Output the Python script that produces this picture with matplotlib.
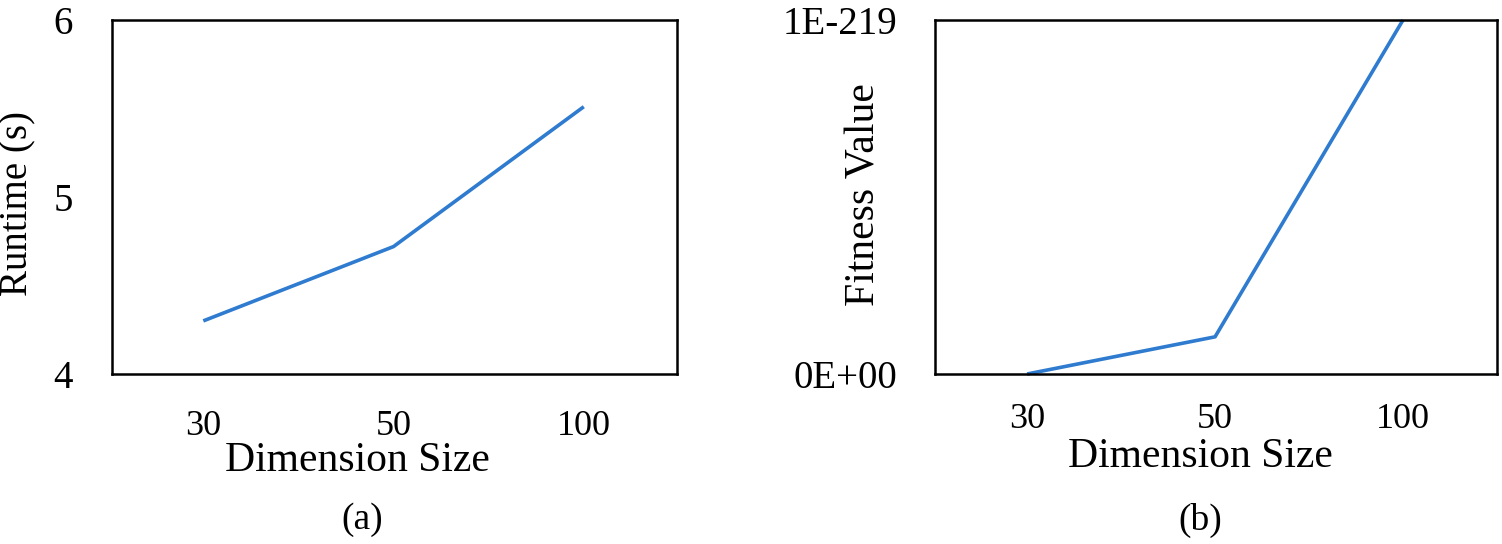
import matplotlib
matplotlib.use("Agg")
import matplotlib.pyplot as plt
import numpy as np

plt.rcParams['font.family'] = ['Liberation Serif', 'DejaVu Serif']

# ---- data ----
dimensions = ["30", "50", "100"]
runtime_s = [4.30, 4.72, 5.51]
fitness = [0.0, 1.05e-220, 1.0e-219]
fitness_unit = 1e-219
runtime_ticks = [4, 5, 6]
fitness_tick_labels = ["0E+00", "1E-219"]

line_color = "#2E7BCF"

fig = plt.figure(figsize=(15.02, 5.44), dpi=100)
H = 544.0
W = 1502.0

def add_axes(x0, x1, top, bottom):
    return fig.add_axes([x0 / W, 1 - bottom / H, (x1 - x0) / W, (bottom - top) / H])

ax1 = add_axes(112, 677, 20, 374)
ax2 = add_axes(935, 1497, 20, 374)

xpos = np.arange(len(dimensions))

# ---- panel (a) ----
ax1.plot(xpos, runtime_s, color=line_color, lw=2.6, solid_capstyle='butt', clip_on=False)
ax1.set_xlim(-0.48, 2.49)
ax1.set_ylim(4, 6)
ax1.set_yticks(runtime_ticks)
ax1.set_yticklabels([str(t) for t in runtime_ticks])
ax1.set_xticks(xpos)
ax1.set_xticklabels(dimensions)
ax1.tick_params(axis='y', length=0, pad=28, labelsize=28)
ax1.tick_params(axis='x', length=0, pad=26, labelsize=26)
ax1.set_ylabel("Runtime (s)", fontsize=28, va='center', ha='center')
ax1.yaxis.set_label_coords(-0.166, 0.483)
ax1.set_xlabel("Dimension Size", fontsize=30, va='baseline', ha='center')
ax1.xaxis.set_label_coords(0.434, -0.274)

# ---- panel (b) ----
ax2.plot(xpos, np.array(fitness) / fitness_unit, color=line_color, lw=2.6,
         solid_capstyle='butt', clip_on=False)
ax2.set_xlim(-0.49, 2.50)
ax2.set_ylim(0, 1)
ax2.set_yticks([0, 1])
ax2.set_yticklabels(fitness_tick_labels)
ax2.set_xticks(xpos)
ax2.set_xticklabels(dimensions)
ax2.tick_params(axis='y', length=0, pad=27, labelsize=28)
ax2.tick_params(axis='x', length=0, pad=21, labelsize=26)
ax2.set_ylabel("Fitness Value", fontsize=30, va='center', ha='center')
ax2.yaxis.set_label_coords(-0.126, 0.506)
ax2.set_xlabel("Dimension Size", fontsize=30, va='baseline', ha='center')
ax2.xaxis.set_label_coords(0.4715, -0.262)

for ax in (ax1, ax2):
    for s in ax.spines.values():
        s.set_linewidth(1.8)
        s.set_color('black')

fig.text(362 / W, 1 - 520 / H, "(a)", fontsize=27, ha='center', va='center')
fig.text(1200 / W, 1 - 520 / H, "(b)", fontsize=27, ha='center', va='center')

fig.savefig("out.png", dpi=100)
